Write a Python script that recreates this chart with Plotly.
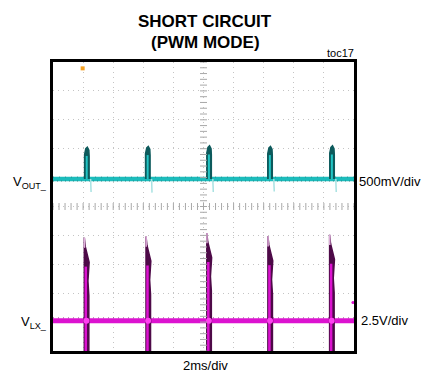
import plotly.graph_objects as go

# Time base: 2 ms/div over 10 divisions; vertical axis in divisions (10 div)
time_range_ms = [0, 20]
div_range = [-5, 5]

# V_OUT channel (500mV/div), levels in divisions on screen
vout_base_div = 0.95
vout_spike_t_ms = [2.20, 6.25, 10.32, 14.37, 18.49]
vout_spike_peak_div = [2.05, 2.08, 2.10, 2.08, 2.10]
vout_dip_div = [0.50, 0.48, 0.50, 0.52, 0.50]

# V_LX channel (2.5V/div), levels in divisions on screen
vlx_base_div = -3.95
vlx_spike_t_ms = [2.08, 6.18, 10.22, 14.28, 18.38]
vlx_spike_peak_div = [-1.08, -1.04, -0.92, -1.03, -0.98]
vlx_floor_div = -5.3

CYAN = "#1cbcbc"
TEAL_DARK = "#0d5a5c"
MAGENTA = "#dc12d0"
PURPLE_DARK = "#4e0a48"
GRID = "#c4c4c4"

fig = go.Figure()

# --- V_OUT trace ---
fig.add_trace(go.Scatter(x=time_range_ms, y=[vout_base_div] * 2, mode="lines",
                         line=dict(color=CYAN, width=4.5), hoverinfo="skip"))
fig.add_trace(go.Scatter(x=time_range_ms, y=[vout_base_div - 0.07] * 2, mode="lines",
                         line=dict(color="#1d5e5e", width=1, dash="1px,3px"), opacity=0.6,
                         hoverinfo="skip"))
fig.add_trace(go.Scatter(x=time_range_ms, y=[vout_base_div + 0.07] * 2, mode="lines",
                         line=dict(color="#1d5e5e", width=1, dash="1px,5px"), opacity=0.5,
                         hoverinfo="skip"))
for t, pk, dp in zip(vout_spike_t_ms, vout_spike_peak_div, vout_dip_div):
    fig.add_trace(go.Scatter(x=[t - 0.1, t - 0.1, t - 0.02, t + 0.08, t + 0.18, t + 0.2, t + 0.2],
                             y=[vout_base_div, pk - 0.25, pk - 0.05, pk, pk - 0.1, pk - 0.3, vout_base_div],
                             mode="lines", fill="toself", fillcolor=TEAL_DARK,
                             line=dict(color=TEAL_DARK, width=1.5), hoverinfo="skip"))
    fig.add_trace(go.Scatter(x=[t + 0.04, t + 0.04], y=[vout_base_div, pk - 0.3], mode="lines",
                             line=dict(color="#22c4c4", width=2), hoverinfo="skip"))
    fig.add_trace(go.Scatter(x=[t + 0.3, t + 0.33], y=[vout_base_div, dp], mode="lines",
                             line=dict(color="#a8e2e2", width=1.5), hoverinfo="skip"))

# --- V_LX trace ---
fig.add_trace(go.Scatter(x=time_range_ms, y=[vlx_base_div] * 2, mode="lines",
                         line=dict(color=MAGENTA, width=5), hoverinfo="skip"))
fig.add_trace(go.Scatter(x=time_range_ms, y=[vlx_base_div + 0.1] * 2, mode="lines",
                         line=dict(color="#7a1070", width=1, dash="1px,4px"), opacity=0.6,
                         hoverinfo="skip"))
for t, pk in zip(vlx_spike_t_ms, vlx_spike_peak_div):
    fig.add_trace(go.Scatter(
        x=[t, t + 0.06, t + 0.32, t + 0.24, t + 0.3, t + 0.3, t, t],
        y=[pk, pk - 0.3, pk - 0.85, pk - 1.5, pk - 2.0, vlx_floor_div, vlx_floor_div, pk],
        mode="lines", fill="toself", fillcolor=PURPLE_DARK,
        line=dict(color=PURPLE_DARK, width=1.5), hoverinfo="skip"))
    fig.add_trace(go.Scatter(x=[t + 0.1, t + 0.1], y=[pk - 1.0, vlx_floor_div], mode="lines",
                             line=dict(color=MAGENTA, width=2.5), hoverinfo="skip"))
    fig.add_trace(go.Scatter(x=[t + 0.01, t + 0.01], y=[pk, pk - 0.35], mode="lines",
                             line=dict(color="#e0b0dc", width=1.5), hoverinfo="skip"))
    fig.add_trace(go.Scatter(x=[t + 0.14], y=[vlx_base_div], mode="markers",
                             marker=dict(color="#ff40f0", size=6), hoverinfo="skip"))

# --- center graticule lines with minor ticks ---
minor = [-5 + 0.2 * k for k in range(51)]
minor_t = [0.4 * k for k in range(51)]
fig.add_trace(go.Scatter(x=[10] * len(minor), y=minor, mode="markers",
                         marker=dict(symbol="line-ew", size=5, line=dict(color="#a8a8a8", width=1)),
                         hoverinfo="skip"))
fig.add_trace(go.Scatter(x=minor_t, y=[0] * len(minor_t), mode="markers",
                         marker=dict(symbol="line-ns", size=5, line=dict(color="#a8a8a8", width=1)),
                         hoverinfo="skip"))

# trigger and ground markers
fig.add_trace(go.Scatter(x=[1.97], y=[4.78], mode="markers",
                         marker=dict(symbol="square", size=4, color="#f5a020"), hoverinfo="skip"))
fig.add_trace(go.Scatter(x=[19.93], y=[-3.32], mode="markers",
                         marker=dict(symbol="circle", size=3, color=MAGENTA), hoverinfo="skip"))

font = "Liberation Sans, Arial, sans-serif"
ax_common = dict(showgrid=True, gridcolor=GRID, griddash="1px,4px", gridwidth=1,
                 zeroline=False, showticklabels=False, ticks="",
                 showline=True, linecolor="black", linewidth=2.5, mirror=True,
                 fixedrange=True)
fig.update_layout(
    width=422, height=374,
    margin=dict(l=53, r=68, t=62, b=23),
    paper_bgcolor="white", plot_bgcolor="white",
    showlegend=False,
    xaxis=dict(range=time_range_ms, dtick=2, **ax_common),
    yaxis=dict(range=div_range, dtick=1, **ax_common),
    font=dict(family=font, color="black"),
)

def label(text, x, y, xanchor, size=13, bold=False, family=font):
    fig.add_annotation(text=f"<b>{text}</b>" if bold else text, x=x, y=y,
                       xref="paper", yref="paper", xanchor=xanchor, yanchor="middle",
                       showarrow=False, font=dict(size=size, family=family, color="black"))

W, H = 301.0, 289.0
def px(xp):
    return (xp - 53) / W
def py(yp):
    return (351 - yp) / H

narrow = "Liberation Sans Narrow, Arial Narrow, Liberation Sans, sans-serif"
label("SHORT CIRCUIT", px(205), py(21), "center", size=17, bold=True, family=narrow)
label("(PWM MODE)", px(205), py(42), "center", size=17, bold=True, family=narrow)
label("toc17", px(356), py(53), "right", size=11)
label("V<sub>OUT_</sub>", px(49), py(182), "right", size=13)
label("V<sub>LX_</sub>", px(49), py(322), "right", size=13)
label("500mV/div", px(357), py(181), "left", size=13)
label("2.5V/div", px(359), py(320), "left", size=13)
label("2ms/div", px(205), py(365), "center", size=13)

fig.write_html("out.html")
